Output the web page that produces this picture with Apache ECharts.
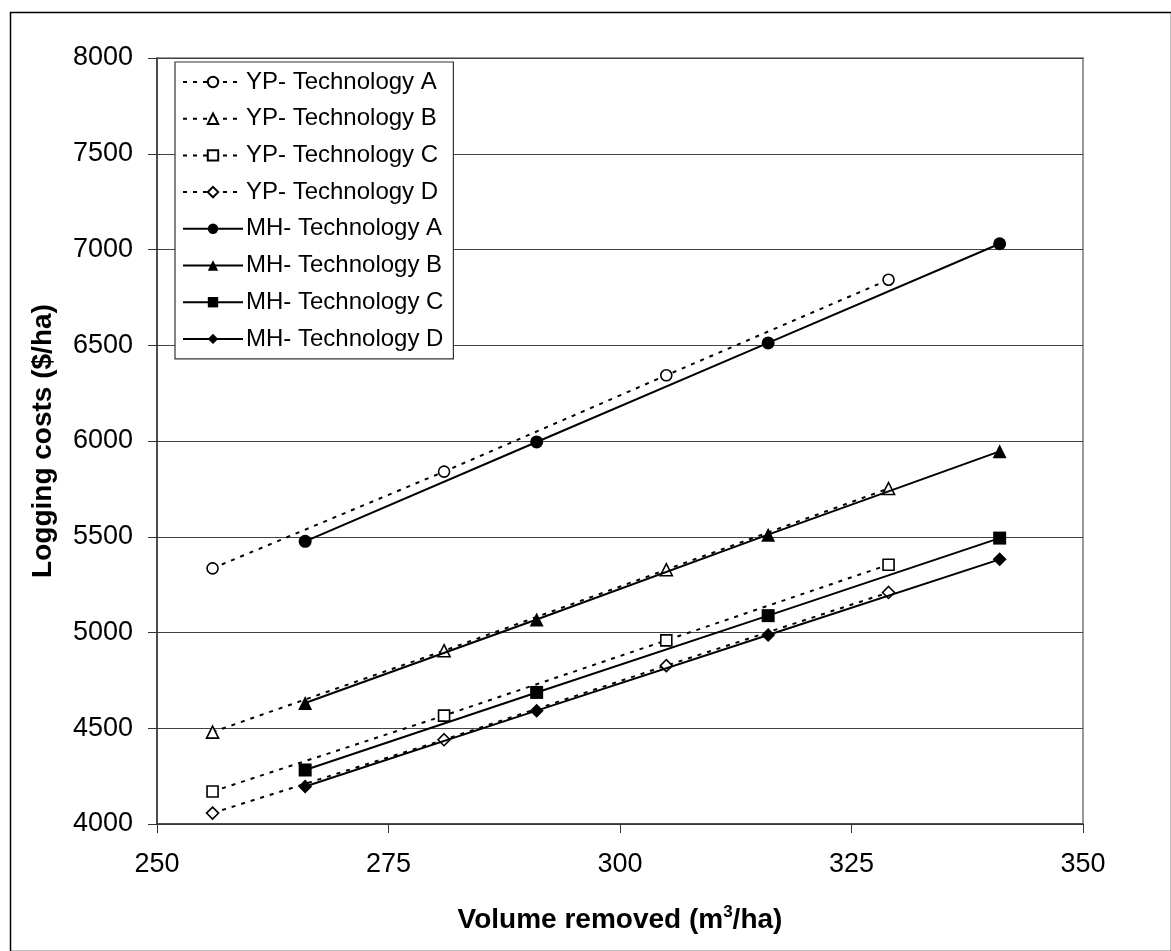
<!DOCTYPE html>
<html>
<head>
<meta charset="utf-8">
<script src="https://cdn.jsdelivr.net/npm/echarts@6/dist/echarts.min.js"></script>
<style>
html,body{margin:0;padding:0;background:#fff;}
#c{width:1171px;height:951px;}
</style>
</head>
<body>
<div id="c"></div>
<script>
// ---- data ----
var ypX = [256, 281, 305, 329];
var mhX = [266, 291, 316, 341];
var ypA = [5335, 5840, 6343, 6842];
var ypB = [4480, 4905, 5328, 5752];
var ypC = [4170, 4566, 4959, 5354];
var ypD = [4057, 4440, 4827, 5209];
var mhA = [5476, 5995, 6512, 7030];
var mhB = [4632, 5068, 5511, 5946];
var mhC = [4282, 4687, 5088, 5493];
var mhD = [4196, 4592, 4987, 5382];
var seriesNames = ['YP- Technology A','YP- Technology B','YP- Technology C','YP- Technology D',
                   'MH- Technology A','MH- Technology B','MH- Technology C','MH- Technology D'];
var xTicks = [250, 275, 300, 325, 350];
var yTicks = [4000, 4500, 5000, 5500, 6000, 6500, 7000, 7500, 8000];

function pairs(xs, ys){ return xs.map(function(x,i){ return [x, ys[i]]; }); }

var FONT = '"Liberation Sans", Arial, sans-serif';
var symbols = ['circle','triangle','rect','diamond'];
var symSizes = [11, 12, 11, 12];
var ypData = [ypA, ypB, ypC, ypD];
var mhData = [mhA, mhB, mhC, mhD];

var series = [];
for (var i = 0; i < 4; i++) {
  series.push({
    name: seriesNames[i], type: 'line', data: pairs(ypX, ypData[i]),
    symbol: symbols[i], symbolSize: symSizes[i], z: 3,
    lineStyle: {color: '#000', width: 2, type: [4, 6]},
    itemStyle: {color: '#fff', borderColor: '#000', borderWidth: 1.6}
  });
}
for (var j = 0; j < 4; j++) {
  series.push({
    name: seriesNames[4 + j], type: 'line', data: pairs(mhX, mhData[j]),
    symbol: symbols[j], symbolSize: symSizes[j] + 2, z: 4,
    lineStyle: {color: '#000', width: 2, type: 'solid'},
    itemStyle: {color: '#000', borderColor: '#000', borderWidth: 0}
  });
}

var chart = echarts.init(document.getElementById('c'), null, {renderer: 'canvas'});
chart.setOption({
  animation: false,
  backgroundColor: '#fff',
  graphic: [{
    type: 'rect', left: 8, top: 10, z: -1, silent: true,
    shape: {width: 1161, height: 939},
    style: {fill: 'none', stroke: '#000', lineWidth: 1.5}
  }],
  grid: {left: 157, right: 88, top: 58, bottom: 127, show: true, borderColor: '#999', borderWidth: 2, backgroundColor: 'transparent'},
  legend: {
    data: seriesNames, orient: 'vertical', left: 175, top: 62,
    padding: [8, 10, 8, 7], itemGap: 12.7,
    itemWidth: 60, itemHeight: 13,
    backgroundColor: '#fff', borderColor: '#333', borderWidth: 1.2,
    textStyle: {fontFamily: FONT, fontSize: 24, color: '#000', padding: [0,0,0,-2]},
    selectedMode: false
  },
  xAxis: {
    type: 'value', min: 250, max: 350, interval: 25,
    axisLine: {show: true, lineStyle: {color: '#333', width: 1.5}},
    axisTick: {show: true, length: 9, lineStyle: {color: '#333', width: 1}},
    axisLabel: {fontFamily: FONT, fontSize: 27, color: '#000', margin: 27,
      formatter: function(v){ return xTicks.indexOf(v) >= 0 ? String(v) : ''; }},
    splitLine: {show: false},
    name: '{b|Volume removed (m}{s|3}{b|/ha)}', nameLocation: 'middle', nameGap: 80,
    nameTextStyle: {rich: {
      b: {fontFamily: FONT, fontSize: 28, fontWeight: 'bold', color: '#000', lineHeight: 33},
      s: {fontFamily: FONT, fontSize: 17, fontWeight: 'bold', color: '#000', lineHeight: 16, verticalAlign: 'top'}
    }}
  },
  yAxis: {
    type: 'value', min: 4000, max: 8000, interval: 500,
    axisLine: {show: true, lineStyle: {color: '#333', width: 1.5}},
    axisTick: {show: true, length: 9, lineStyle: {color: '#333', width: 1}},
    axisLabel: {fontFamily: FONT, fontSize: 27, color: '#000', margin: 24,
      formatter: function(v){ return yTicks.indexOf(v) >= 0 ? String(v) : ''; }},
    splitLine: {show: true, lineStyle: {color: '#444', width: 1.2}},
    name: 'Logging costs ($/ha)', nameLocation: 'middle', nameGap: 100,
    nameTextStyle: {fontFamily: FONT, fontSize: 28, fontWeight: 'bold', color: '#000'}
  },
  series: series
});
</script>
</body>
</html>
